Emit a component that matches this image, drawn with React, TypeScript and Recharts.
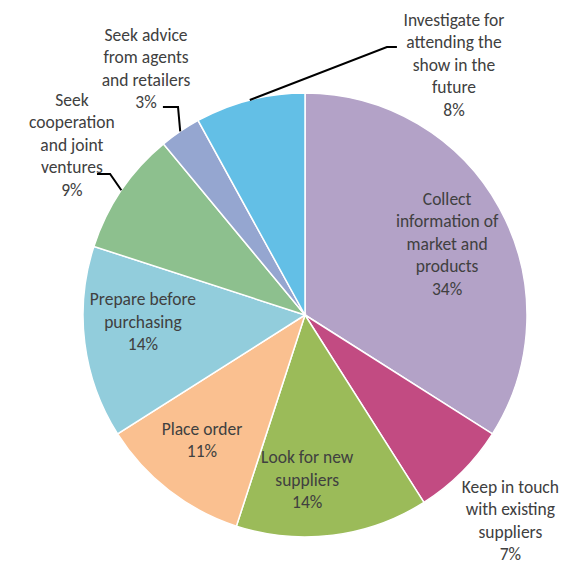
import { PieChart, Pie, Cell } from 'recharts';

// slices go clockwise from 12 o'clock
const categories = [
  ['Collect', 'information of', 'market and', 'products'],
  ['Keep in touch', 'with existing', 'suppliers'],
  ['Look for new', 'suppliers'],
  ['Place order'],
  ['Prepare before', 'purchasing'],
  ['Seek', 'cooperation', 'and joint', 'ventures'],
  ['Seek advice', 'from agents', 'and retailers'],
  ['Investigate for', 'attending the', 'show in the', 'future'],
];
const shares = [34, 7, 14, 11, 14, 9, 3, 8];
const colors = ['#B3A2C7', '#C24B82', '#9BBB59', '#FAC090', '#92CDDC', '#8DC08E', '#95A6D0', '#63BFE6'];

// label block centre, as a fraction of the radius from the pie centre
const labelPos = [
  [0.64, -0.32], [0.925, 0.925], [0.01, 0.743], [-0.464, 0.563],
  [-0.73, 0.03], [-1.05, -0.768], [-0.716, -1.11], [0.671, -1.128],
];
// leader lines: elbow point and end point (fraction of radius)
const leaders: Record<number, number[]> = {
  5: [-0.878, -0.635, -0.937, -0.635],
  6: [-0.572, -0.937, -0.64, -0.937],
  7: [0.369, -1.207, 0.414, -1.207],
};

const data = categories.map((c, i) => ({ name: c.join(' '), value: shares[i] }));

const RAD = Math.PI / 180;
const LH = 22.5;

const renderLabel = (props: any) => {
  const { cx, cy, outerRadius, midAngle, index } = props;
  const [fx, fy] = labelPos[index];
  const x = cx + fx * outerRadius;
  const y = cy + fy * outerRadius;
  const lines = [...categories[index], `${shares[index]}%`];
  const y0 = y - ((lines.length - 1) * LH) / 2;
  const ld = leaders[index];
  let path = null;
  if (ld) {
    const sx = cx + outerRadius * Math.cos(-midAngle * RAD);
    const sy = cy + outerRadius * Math.sin(-midAngle * RAD);
    path = (
      <polyline
        points={`${sx},${sy} ${cx + ld[0] * outerRadius},${cy + ld[1] * outerRadius} ${cx + ld[2] * outerRadius},${cy + ld[3] * outerRadius}`}
        fill="none"
        stroke="#000"
        strokeWidth={2}
      />
    );
  }
  return (
    <g key={`lbl-${index}`}>
      {path}
      <text x={x} y={y0} textAnchor="middle" fill="#404040" fontSize={17.5} fontFamily="Carlito, Lato, 'Open Sans', sans-serif">
        {lines.map((l, i) => (
          <tspan key={i} x={x} y={y0 + i * LH} dominantBaseline="central">{l}</tspan>
        ))}
      </text>
    </g>
  );
};

export default function App() {
  return (
    <div style={{ width: 560, height: 556 }}>
      <PieChart width={560} height={556}>
        <Pie
          data={data}
          dataKey="value"
          nameKey="name"
          cx={292}
          cy={302}
          outerRadius={222}
          startAngle={90}
          endAngle={-270}
          stroke="#fff"
          strokeWidth={1.5}
          label={renderLabel}
          labelLine={false}
          isAnimationActive={false}
        >
          {data.map((d, i) => (
            <Cell key={d.name} fill={colors[i]} />
          ))}
        </Pie>
      </PieChart>
    </div>
  );
}
